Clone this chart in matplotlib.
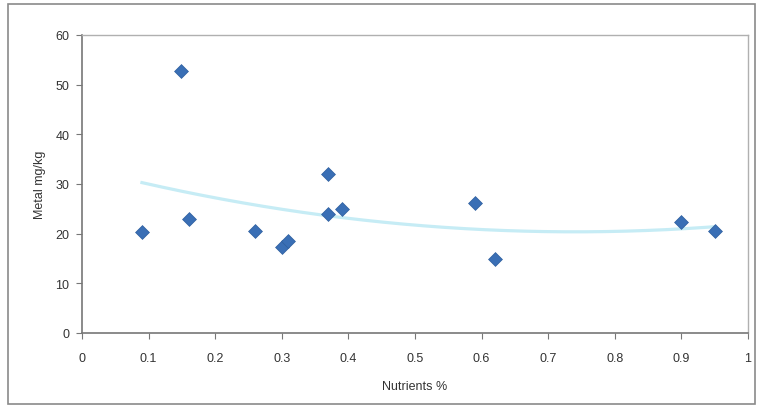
import numpy as np
import matplotlib
matplotlib.use("Agg")
import matplotlib.pyplot as plt
from matplotlib.patches import Rectangle

plt.rcParams['font.family'] = ['Liberation Sans', 'DejaVu Sans']

# nutrients (%) and metal (mg/kg)
nutrients = [0.09, 0.149, 0.16, 0.26, 0.30, 0.31, 0.37, 0.37, 0.39, 0.59, 0.62, 0.90, 0.95]
metal = [20.3, 52.7, 22.9, 20.5, 17.3, 18.5, 23.9, 32.0, 24.9, 26.2, 14.9, 22.3, 20.5]

x_ticks = [0, 0.1, 0.2, 0.3, 0.4, 0.5, 0.6, 0.7, 0.8, 0.9, 1]
x_tick_labels = ["0", "0.1", "0.2", "0.3", "0.4", "0.5", "0.6", "0.7", "0.8", "0.9", "1"]
y_ticks = [0, 10, 20, 30, 40, 50, 60]

fig = plt.figure(figsize=(7.83, 4.14), dpi=100)
# outer chart frame
fig.patches.append(Rectangle((8 / 783, 1 - 405 / 414), 747 / 783, 400 / 414,
                             transform=fig.transFigure, fill=False,
                             edgecolor='#8a8a8a', linewidth=1.2))

ax = fig.add_axes([82 / 783, 1 - 334 / 414, 666 / 783, 298 / 414])

# second order trend line
coef = np.polyfit(nutrients, metal, 2)
xs = np.linspace(min(nutrients), max(nutrients), 200)
ax.plot(xs, np.polyval(coef, xs), color='#c6ecf5', linewidth=2.3, zorder=2)

ax.scatter(nutrients, metal, marker='D', s=50, color='#3a6fb5',
           edgecolors='#2f5f9f', linewidths=0.5, zorder=3)

ax.set_xlim(0, 1)
ax.set_ylim(0, 60)
ax.set_xticks(x_ticks)
ax.set_xticklabels(x_tick_labels)
ax.set_yticks(y_ticks)
ax.tick_params(direction='out', length=4, color='#777777', labelsize=9,
               labelcolor='#333333', pad=5)
ax.tick_params(axis='x', pad=10)

for side in ['left', 'bottom']:
    ax.spines[side].set_color('#777777')
    ax.spines[side].set_linewidth(1.2)
for side in ['top', 'right']:
    ax.spines[side].set_color('#b0b0b0')
    ax.spines[side].set_linewidth(1.0)

ax.set_xlabel('Nutrients %', fontsize=9, color='#333333', labelpad=11)
ax.set_ylabel('Metal mg/kg', fontsize=9, color='#333333', labelpad=7)

fig.savefig('out.png', dpi=100)
